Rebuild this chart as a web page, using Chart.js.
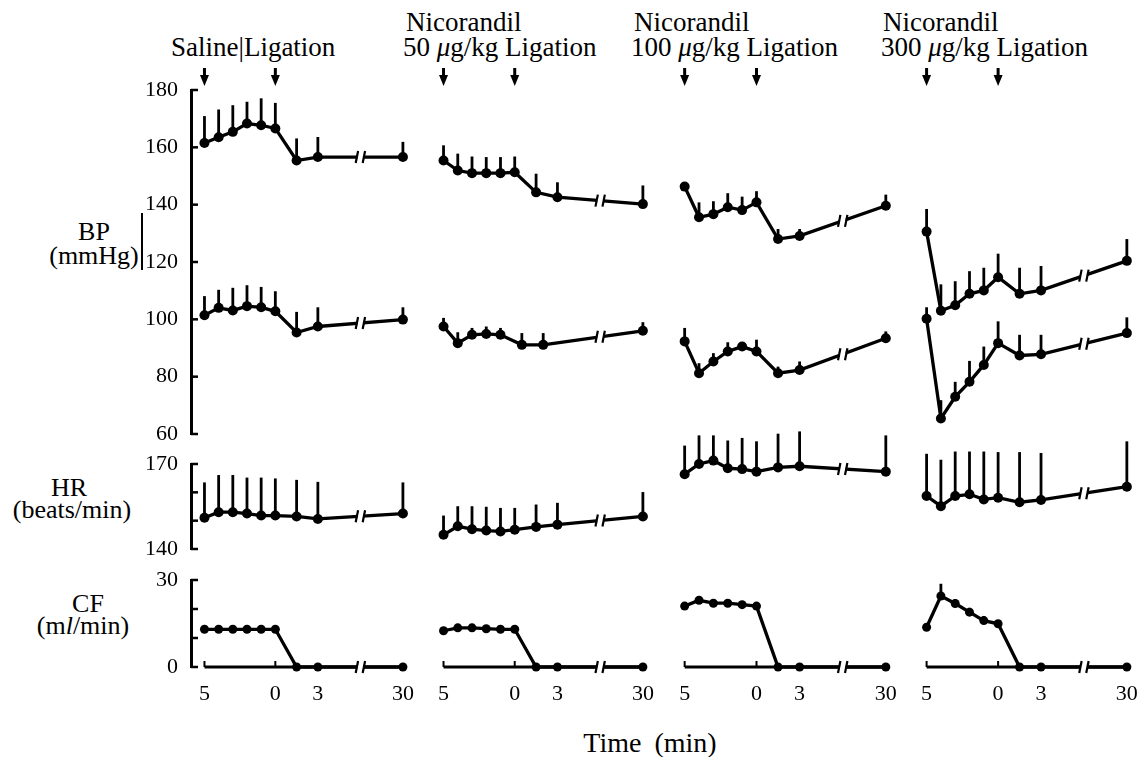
<!DOCTYPE html>
<html><head><meta charset="utf-8">
<script src="https://cdn.jsdelivr.net/npm/chart.js@4/dist/chart.umd.min.js"></script>
<style>
html,body{margin:0;padding:0;background:#fff}
body{width:1143px;height:757px;position:relative;overflow:hidden;font-family:"Liberation Serif","Times New Roman",serif;color:#000}
canvas{position:absolute}
.t{position:absolute;white-space:nowrap;line-height:1;color:#000}
.title{font-size:27px}
.lab{font-size:26px;transform:translateX(-50%)}
</style></head><body>
<div class="t title" style="left:171px;top:34px">Saline|Ligation</div>
<div class="t title" style="left:406px;top:9px">Nicorandil</div>
<div class="t title" style="left:403px;top:34px">50 <i>μ</i>g/kg Ligation</div>
<div class="t title" style="left:634px;top:9px">Nicorandil</div>
<div class="t title" style="left:631px;top:34px">100 <i>μ</i>g/kg Ligation</div>
<div class="t title" style="left:883px;top:9px">Nicorandil</div>
<div class="t title" style="left:881px;top:34px">300 <i>μ</i>g/kg Ligation</div>
<div class="t lab" style="left:94px;top:219px">BP</div>
<div class="t lab" style="left:94px;top:243px">(mmHg)</div>
<div style="position:absolute;left:141px;top:213px;width:2px;height:57px;background:#000"></div>
<div class="t lab" style="left:69px;top:475px">HR</div>
<div class="t lab" style="left:72px;top:497px">(beats/min)</div>
<div class="t lab" style="left:88px;top:591px">CF</div>
<div class="t lab" style="left:83px;top:613px">(m<i>l</i>/min)</div>
<div class="t lab" style="left:650px;top:729px;font-size:28px;word-spacing:6px">Time (min)</div>
<script>
// ---------------- data ----------------
// plotted time positions: -5..0 min before ligation, 1.5 and 3 min after, and 30 min (drawn after an axis break)
const timeSlots = [-5, -4, -3, -2, -1, 0, 1.5, 3, 9];
const dia50Slots = [-5, -4, -3, -2, -1, 0.5, 2, 9];
const xTickValues = [-5, 0, 3, 9];
const xTickLabels = ['5', '0', '3', '30'];
const groupNames = ['Saline', 'Nicorandil 50 μg/kg', 'Nicorandil 100 μg/kg', 'Nicorandil 300 μg/kg'];

// Saline
const salineSys   = [161.5, 163.5, 165.4, 168.3, 167.7, 166.6, 155.4, 156.6, 156.6];
const salineSysSE = [9.4, 9.7, 9.3, 7.6, 9.4, 8.9, 7.7, 7.0, 5.3];
const salineDia   = [101.4, 104.0, 103.1, 104.6, 104.2, 102.8, 95.4, 97.5, 99.9];
const salineDiaSE = [6.7, 6.3, 7.9, 7.3, 7.1, 7.0, 7.2, 6.7, 4.3];
const salineHR    = [151.0, 153.0, 153.0, 152.5, 151.8, 151.8, 151.5, 150.6, 152.5];
const salineHRSE  = [12.5, 13.1, 13.1, 12.7, 13.4, 13.1, 12.9, 13.1, 11.0];
const salineCF    = [13, 13, 13, 13, 13, 13, 0, 0, 0];
const salineCFSE  = [1, 1, 1, 1, 1, 1, 0, 0, 0];

// Nicorandil 50 ug/kg
const n50Sys   = [155.4, 151.9, 151.0, 151.0, 151.0, 151.3, 144.3, 142.6, 140.2];
const n50SysSE = [5.3, 5.9, 5.8, 5.6, 5.6, 5.5, 6.5, 5.2, 6.5];
const n50Dia   = [97.5, 91.7, 94.6, 94.9, 94.6, 91.1, 91.1, 96.0];
const n50DiaSE = [3.0, 3.8, 2.4, 2.6, 2.4, 4.1, 4.1, 3.0];
const n50HR    = [145.0, 148.0, 147.0, 146.5, 146.2, 146.8, 147.8, 148.6, 151.5];
const n50HRSE  = [6.8, 7.1, 8.1, 8.4, 8.3, 7.7, 7.9, 7.7, 8.6];
const n50CF    = [12.5, 13.5, 13.5, 13.2, 13, 13, 0, 0, 0];
const n50CFSE  = [1, 1, 1, 1, 1, 1, 0, 0, 0];

// Nicorandil 100 ug/kg
const n100Sys   = [146.3, 135.6, 136.7, 139.1, 138.1, 140.8, 128.0, 129.1, 139.6];
const n100SysSE = [1.5, 5.2, 4.5, 4.9, 4.7, 3.9, 3.5, 2.4, 3.9];
const n100Dia   = [92.3, 81.2, 85.3, 88.8, 90.5, 88.8, 81.2, 82.3, 93.4];
const n100DiaSE = [4.7, 3.5, 2.9, 3.2, 1.2, 4.1, 2.3, 3.0, 2.4];
const n100HR    = [166.4, 170.0, 171.2, 168.5, 168.2, 167.3, 168.8, 169.2, 167.3];
const n100HRSE  = [10.1, 10.1, 8.9, 9.8, 11.0, 10.7, 11.9, 12.3, 12.8];
const n100CF    = [21, 23, 22, 22, 21.5, 21, 0, 0, 0];
const n100CFSE  = [1, 1, 1, 1, 1, 1, 0, 0, 0];

// Nicorandil 300 ug/kg
const n300Sys   = [130.6, 103.0, 104.9, 108.9, 110.1, 114.7, 108.9, 110.1, 120.4];
const n300SysSE = [7.9, 9.2, 8.4, 7.9, 7.9, 8.2, 9.1, 8.5, 7.6];
const n300Dia   = [100.2, 65.4, 73.0, 78.2, 84.1, 91.7, 87.4, 87.8, 95.2];
const n300DiaSE = [4.0, 6.4, 5.2, 7.3, 6.4, 7.6, 7.2, 6.8, 5.5];
const n300HR    = [158.7, 155.1, 158.7, 159.3, 157.5, 158.1, 156.5, 157.3, 162.0];
const n300HRSE  = [14.9, 16.4, 15.7, 15.1, 16.9, 16.1, 17.7, 16.6, 16.0];
const n300CF    = [13.7, 24.5, 21.9, 18.9, 16.0, 14.9, 0, 0, 0];
const n300CFSE  = [0.5, 4.2, 1.5, 1.5, 1.5, 1.0, 0, 0, 0];

// ---------------- layout ----------------
const BREAK_POS = 6;
const X_MIN = -5.95, X_MAX = 9.5;
const COLS = [
  {p5: 204.5, p9: 402.5},
  {p5: 444, p9: 643},
  {p5: 684.5, p9: 885.5},
  {p5: 927, p9: 1127}
];
const ROWS = {
  bp: {top: 89.5, bottom: 433, min: 60, max: 180, step: 20, labels: null},
  hr: {top: 464, bottom: 549, min: 140, max: 170, step: 10, labels: [140, 170]},
  cf: {top: 579.5, bottom: 666, min: 0, max: 30, step: 10, labels: [0, 30]}
};

const panels = [
  {bp: [[timeSlots, salineSys, salineSysSE], [timeSlots, salineDia, salineDiaSE]], hr: [[timeSlots, salineHR, salineHRSE]], cf: [[timeSlots, salineCF, salineCFSE]]},
  {bp: [[timeSlots, n50Sys, n50SysSE], [dia50Slots, n50Dia, n50DiaSE]], hr: [[timeSlots, n50HR, n50HRSE]], cf: [[timeSlots, n50CF, n50CFSE]]},
  {bp: [[timeSlots, n100Sys, n100SysSE], [timeSlots, n100Dia, n100DiaSE]], hr: [[timeSlots, n100HR, n100HRSE]], cf: [[timeSlots, n100CF, n100CFSE]]},
  {bp: [[timeSlots, n300Sys, n300SysSE], [timeSlots, n300Dia, n300DiaSE]], hr: [[timeSlots, n300HR, n300HRSE]], cf: [[timeSlots, n300CF, n300CFSE]]}
];

Chart.defaults.font.family = "'Liberation Serif', 'Times New Roman', serif";
Chart.defaults.color = '#000';

const figureMarks = {
  id: 'figureMarks',
  beforeDatasetsDraw(chart) {
    const o = chart.options.plugins.figureMarks || {};
    const ctx = chart.ctx, ca = chart.chartArea;
    const xs = chart.scales.x, ys = chart.scales.y;
    ctx.save();
    ctx.strokeStyle = '#000'; ctx.fillStyle = '#000'; ctx.lineCap = 'butt';
    if (o.baseline) {
      const y0 = ys.getPixelForValue(0);
      ctx.lineWidth = 3.2;
      ctx.beginPath(); ctx.moveTo(xs.getPixelForValue(-5), y0); ctx.lineTo(xs.getPixelForValue(9), y0); ctx.stroke();
      ctx.lineWidth = 2;
      [-5, 0].forEach(v => { const x = xs.getPixelForValue(v); ctx.beginPath(); ctx.moveTo(x, y0); ctx.lineTo(x, y0 - 6); ctx.stroke(); });
    }
    if (o.yTicks) {
      ctx.lineWidth = 2.5;
      ys.ticks.forEach(t => {
        const y = ys.getPixelForValue(t.value);
        ctx.beginPath(); ctx.moveTo(ca.left, y); ctx.lineTo(ca.left + 7, y); ctx.stroke();
      });
    }
    if (o.arrows) {
      o.arrows.forEach(v => {
        const x = xs.getPixelForValue(v);
        const tip = ca.top - 4, base = ca.top - 22;
        ctx.lineWidth = 3;
        ctx.beginPath(); ctx.moveTo(x, base); ctx.lineTo(x, tip - 8); ctx.stroke();
        ctx.beginPath(); ctx.moveTo(x - 4.5, tip - 11); ctx.lineTo(x + 4.5, tip - 11); ctx.lineTo(x, tip); ctx.closePath(); ctx.fill();
      });
    }
    ctx.lineWidth = 2.8;
    chart.data.datasets.forEach(ds => {
      ds.data.forEach((p, j) => {
        const se = ds.se ? ds.se[j] : 0;
        if (!se) return;
        const x = xs.getPixelForValue(p.x);
        ctx.beginPath(); ctx.moveTo(x, ys.getPixelForValue(p.y)); ctx.lineTo(x, ys.getPixelForValue(p.y + se)); ctx.stroke();
      });
    });
    ctx.restore();
  },
  afterDatasetsDraw(chart) {
    const ctx = chart.ctx, xs = chart.scales.x, ys = chart.scales.y;
    ctx.save();
    chart.data.datasets.forEach(ds => {
      for (let j = 1; j < ds.data.length; j++) {
        const a = ds.data[j - 1], b = ds.data[j];
        if (a.x < BREAK_POS && b.x > BREAK_POS) {
          const xa = xs.getPixelForValue(a.x), ya = ys.getPixelForValue(a.y);
          const xb = xs.getPixelForValue(b.x), yb = ys.getPixelForValue(b.y);
          const xk = xs.getPixelForValue(BREAK_POS);
          const yk = ya + (yb - ya) * (xk - xa) / (xb - xa);
          ctx.fillStyle = '#fff';
          ctx.fillRect(xk - 3, yk - 4, 6, 8);
          ctx.strokeStyle = '#000'; ctx.lineWidth = 2.2;
          [-3.5, 3.5].forEach(d => {
            ctx.beginPath(); ctx.moveTo(xk + d - 1.2, yk + 6); ctx.lineTo(xk + d + 1.2, yk - 6); ctx.stroke();
          });
        }
      }
    });
    ctx.restore();
  }
};

const AXW = 70, XAH = 44;
function build(colIdx, rowKey) {
  const c = COLS[colIdx], r = ROWS[rowKey];
  const u = (c.p9 - c.p5) / 14;
  const L = c.p5 - (-5 - X_MIN) * u;
  const R = c.p9 + (X_MAX - 9) * u;
  const showY = colIdx === 0, showX = rowKey === 'cf';
  const padL = 6, padR = 10, padT = rowKey === 'bp' ? 30 : 40, padB = 8;
  const left = L - padL - (showY ? AXW : 0);
  const top = r.top - padT;
  const w = Math.round((R - L) + padL + padR + (showY ? AXW : 0));
  const h = Math.round((r.bottom - r.top) + padT + padB + (showX ? XAH : 0));
  const cv = document.createElement('canvas');
  cv.width = w; cv.height = h;
  cv.style.left = left + 'px'; cv.style.top = top + 'px';
  cv.style.width = w + 'px'; cv.style.height = h + 'px';
  document.body.appendChild(cv);
  const datasets = panels[colIdx][rowKey].map(([slots, vals, se], k) => ({
    label: groupNames[colIdx] + ' ' + rowKey + ' ' + k,
    data: slots.map((x, i) => ({x, y: vals[i]})),
    se,
    borderColor: '#000', backgroundColor: '#000',
    borderWidth: 3.3, pointRadius: rowKey === 'cf' ? 4.5 : 5,
    pointBackgroundColor: '#000', pointBorderWidth: 0,
    tension: 0, fill: false, clip: false
  }));
  new Chart(cv, {
    type: 'line',
    data: {datasets},
    options: {
      responsive: false, animation: false, events: [],
      layout: {padding: {left: padL, right: padR, top: padT, bottom: padB}},
      plugins: {
        legend: {display: false}, tooltip: {enabled: false},
        figureMarks: {baseline: rowKey === 'cf', yTicks: showY, arrows: rowKey === 'bp' ? [-5, 0] : null}
      },
      scales: {
        x: {
          type: 'linear', min: X_MIN, max: X_MAX, display: showX, position: 'bottom',
          afterFit: s => { s.height = showX ? XAH : 0; s.paddingLeft = 0; s.paddingRight = 0; },
          afterBuildTicks: s => { s.ticks = xTickValues.map(v => ({value: v})); },
          border: {display: false},
          grid: {drawOnChartArea: false, drawTicks: false},
          ticks: {autoSkip: false, maxRotation: 0, padding: 14, font: {size: 22},
            callback: v => { const i = xTickValues.indexOf(v); return i >= 0 ? xTickLabels[i] : ''; }}
        },
        y: {
          type: 'linear', min: r.min, max: r.max, display: showY, position: 'left',
          afterFit: s => { s.width = showY ? AXW : 0; s.paddingTop = 0; s.paddingBottom = 0; },
          border: {display: true, width: 3, color: '#000'},
          grid: {drawOnChartArea: false, drawTicks: false},
          ticks: {stepSize: r.step, padding: 13, autoSkip: false, font: {size: 22},
            callback: v => (!r.labels || r.labels.includes(v)) ? String(v) : ''}
        }
      }
    },
    plugins: [figureMarks]
  });
}
for (let ci = 0; ci < 4; ci++) { ['bp', 'hr', 'cf'].forEach(rk => build(ci, rk)); }
</script>
</body></html>
